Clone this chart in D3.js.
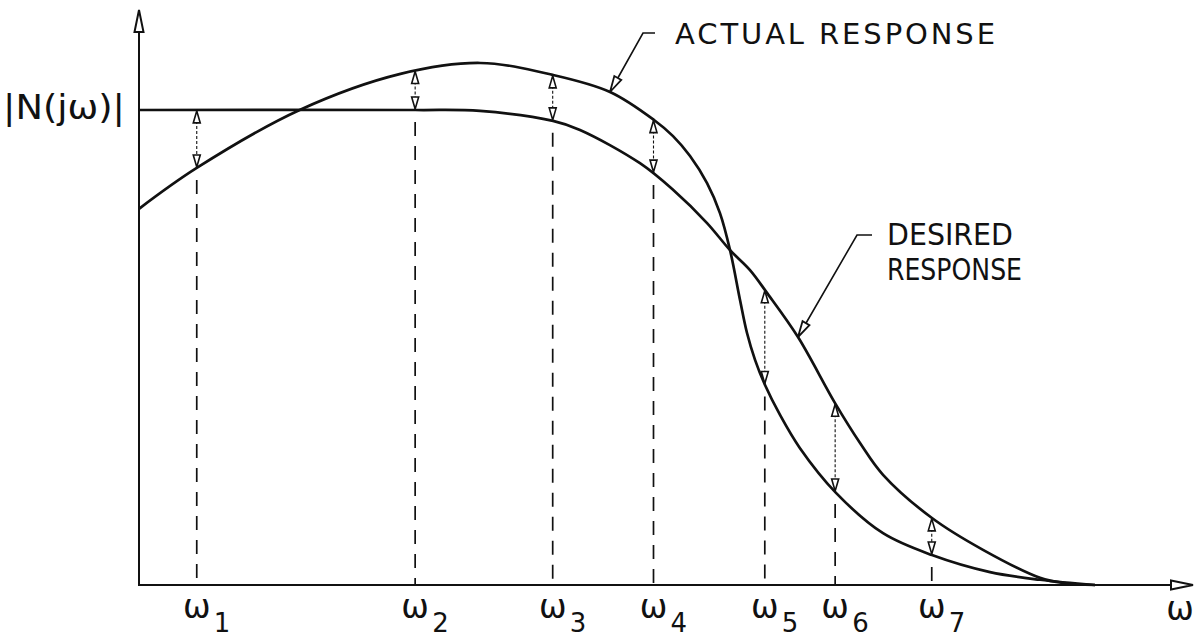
<!DOCTYPE html>
<html>
<head>
<meta charset="utf-8">
<script src="https://cdn.jsdelivr.net/npm/d3@7"></script>
<style>
  body { margin: 0; background: #fff; }
  text { font-family: "DejaVu Sans", sans-serif; fill: #111; }
</style>
</head>
<body>
<div class="chart"></div>
<script>
// sample frequencies (arbitrary units) and their subscripts
const omegaPos = [0.55, 2.63, 3.94, 4.90, 5.96, 6.63, 7.55]
const omegaSub = ["1", "2", "3", "4", "5", "6", "7"]

// actual response |N(jw)|
const actualW = [0, 0.55, 1.53, 2.49, 3.25, 3.94, 4.486, 4.905, 5.086, 5.248, 5.41, 5.533, 5.629, 5.724, 5.79, 5.867, 5.962, 6.105, 6.295, 6.638, 7.086, 7.552, 8.105, 8.581, 9.105]
const actualMag = [0.792, 0.878, 1.0, 1.076, 1.099, 1.074, 1.038, 0.979, 0.945, 0.903, 0.846, 0.783, 0.705, 0.600, 0.531, 0.474, 0.421, 0.358, 0.288, 0.194, 0.109, 0.063, 0.027, 0.011, 0]

// desired response
const desiredW = [0, 2.629, 3.248, 3.943, 4.2, 4.771, 5.086, 5.41, 5.629, 5.819, 5.981, 6.276, 6.629, 6.867, 7.086, 7.552, 8.038, 8.581, 8.81, 9.105]
const desiredMag = [1.0, 1.0, 0.998, 0.977, 0.958, 0.888, 0.832, 0.762, 0.705, 0.663, 0.615, 0.522, 0.383, 0.299, 0.232, 0.141, 0.074, 0.015, 0.004, 0]

const width = 1203
const height = 638
const margin = {top: 10, bottom: 53, left: 139, right: 14}

const svg = d3.select(".chart")
    .append("svg")
    .attr("width", width)
    .attr("height", height)

const x = d3.scaleLinear()
    .domain([0, 10])
    .range([margin.left, width - margin.right])

const y = d3.scaleLinear()
    .domain([0, 1])
    .range([height - margin.bottom, 110])

const defs = svg.append("defs")

// hollow arrow heads: big ones for axes/callouts, small ones for error bars
function head(id, len, half, sw) {
    defs.append("marker")
        .attr("id", id)
        .attr("markerUnits", "userSpaceOnUse")
        .attr("viewBox", `-2 ${-half - 2} ${len + 4} ${2 * half + 4}`)
        .attr("refX", len)
        .attr("refY", 0)
        .attr("markerWidth", len + 4)
        .attr("markerHeight", 2 * half + 4)
        .attr("orient", "auto-start-reverse")
        .append("path")
        .attr("d", `M0,${-half}L${len},0L0,${half}Z`)
        .attr("fill", "#fff")
        .attr("stroke", "#111")
        .attr("stroke-width", sw)
}
head("axisHead", 22, 4.5, 2)
head("head", 16, 4, 1.8)
head("small", 12, 3.5, 1.6)

// axes
svg.append("line")
    .attr("x1", x(0)).attr("y1", y(0))
    .attr("x2", x(0)).attr("y2", 10)
    .attr("stroke", "#111")
    .attr("stroke-width", 2)
    .attr("marker-end", "url(#axisHead)")

svg.append("line")
    .attr("x1", x(0) - 1).attr("y1", y(0))
    .attr("x2", 1193).attr("y2", y(0))
    .attr("stroke", "#111")
    .attr("stroke-width", 2)
    .attr("marker-end", "url(#axisHead)")

const line = d3.line()
    .x(d => x(d[0]))
    .y(d => y(d[1]))
    .curve(d3.curveCatmullRom.alpha(0.5))

const actualPath = svg.append("path")
    .datum(d3.zip(actualW, actualMag))
    .attr("d", line)
    .attr("fill", "none")
    .attr("stroke", "#111")
    .attr("stroke-width", 2.7)

const desiredPath = svg.append("path")
    .datum(d3.zip(desiredW, desiredMag))
    .attr("d", line)
    .attr("fill", "none")
    .attr("stroke", "#111")
    .attr("stroke-width", 2.7)

// y of a drawn path at a given screen x
function yAt(path, px) {
    const node = path.node()
    let lo = 0, hi = node.getTotalLength()
    for (let i = 0; i < 40; i++) {
        const mid = (lo + hi) / 2
        if (node.getPointAtLength(mid).x < px) lo = mid
        else hi = mid
    }
    return node.getPointAtLength(lo).y
}

const samples = omegaPos.map((w, i) => {
    const px = x(w)
    const ya = yAt(actualPath, px)
    const yd = yAt(desiredPath, px)
    return {px, top: Math.min(ya, yd), bottom: Math.max(ya, yd), sub: omegaSub[i]}
})

// dashed drop lines
svg.selectAll(".drop")
    .data(samples)
    .enter()
    .append("line")
    .attr("class", "drop")
    .attr("x1", d => d.px).attr("x2", d => d.px)
    .attr("y1", d => d.bottom + 12)
    .attr("y2", y(0))
    .attr("stroke", "#111")
    .attr("stroke-width", 1.7)
    .attr("stroke-dasharray", "14,10")

// error arrows between the two curves
svg.selectAll(".err")
    .data(samples)
    .enter()
    .append("line")
    .attr("class", "err")
    .attr("x1", d => d.px).attr("x2", d => d.px)
    .attr("y1", d => d.top + 1)
    .attr("y2", d => d.bottom - 1)
    .attr("stroke", "#111")
    .attr("stroke-width", 1.1)
    .attr("stroke-dasharray", "3,2")
    .attr("marker-start", "url(#small)")
    .attr("marker-end", "url(#small)")

// omega tick labels
const lab = svg.selectAll(".wlab")
    .data(samples)
    .enter()
    .append("g")
    .attr("class", "wlab")
    .attr("transform", d => `translate(${d.px},0)`)

lab.append("text")
    .attr("x", 0)
    .attr("y", 618)
    .attr("text-anchor", "middle")
    .attr("font-size", 33)
    .text("ω")

lab.append("text")
    .attr("x", 17)
    .attr("y", 632)
    .attr("font-size", 26)
    .text(d => d.sub)

svg.append("text")
    .attr("x", 1180)
    .attr("y", 620)
    .attr("text-anchor", "middle")
    .attr("font-size", 33)
    .text("ω")

svg.append("text")
    .attr("x", 3)
    .attr("y", 119)
    .attr("font-size", 33)
    .attr("textLength", 122)
    .attr("lengthAdjust", "spacingAndGlyphs")
    .text("|N(jω)|")

// callouts
svg.append("path")
    .attr("d", "M655,33L643,33L610,92")
    .attr("fill", "none")
    .attr("stroke", "#111")
    .attr("stroke-width", 1.6)
    .attr("marker-end", "url(#head)")

svg.append("text")
    .attr("x", 675)
    .attr("y", 44)
    .attr("font-size", 29)
    .attr("textLength", 320)
    .attr("lengthAdjust", "spacing")
    .text("ACTUAL RESPONSE")

svg.append("path")
    .attr("d", "M872,235L857,235L798,337")
    .attr("fill", "none")
    .attr("stroke", "#111")
    .attr("stroke-width", 1.6)
    .attr("marker-end", "url(#head)")

svg.append("text")
    .attr("x", 887)
    .attr("y", 245)
    .attr("font-size", 31)
    .attr("textLength", 126)
    .attr("lengthAdjust", "spacingAndGlyphs")
    .text("DESIRED")

svg.append("text")
    .attr("x", 887)
    .attr("y", 280)
    .attr("font-size", 31)
    .attr("textLength", 135)
    .attr("lengthAdjust", "spacingAndGlyphs")
    .text("RESPONSE")
</script>
</body>
</html>
